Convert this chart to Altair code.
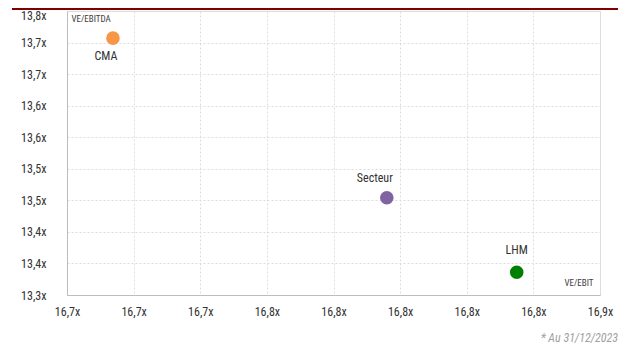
import altair as alt
import pandas as pd

names = ["CMA", "Secteur", "LHM"]
ve_ebit = [16.7138, 16.796, 16.835]
ve_ebitda = [13.727, 13.474, 13.356]
colors = ["#F79646", "#8064A2", "#008000"]

x_ticks = [16.70, 16.72, 16.74, 16.76, 16.78, 16.80, 16.82, 16.84, 16.86]
y_ticks = [13.32, 13.37, 13.42, 13.47, 13.52, 13.57, 13.62, 13.67, 13.72, 13.77]

df = pd.DataFrame({"name": names, "x": ve_ebit, "y": ve_ebitda, "color": colors})

FONT = "'Roboto Condensed', 'Liberation Sans Narrow', 'DejaVu Sans Condensed', 'Arial Narrow', sans-serif"
W, H = 533, 284

x_enc = alt.X("x:Q", scale=alt.Scale(domain=[x_ticks[0], x_ticks[-1]], nice=False, zero=False),
              axis=alt.Axis(values=x_ticks, tickCount=len(x_ticks), title="VE/EBIT", titleX=526, titleY=-13,
                            titleAlign="right",
                            titleBaseline="middle", titleFontSize=9, titleFontWeight="normal",
                            titleColor="#404040", titleFont=FONT,
                            labelExpr="replace(format(datum.value, '.1f'), '.', ',') + 'x'",
                            labelPadding=11, ticks=False, domainColor="#bdbdbd",
                            gridColor="#dcdcdc", gridDash=[2, 2], labelFont=FONT, labelFontSize=12,
                            labelColor="#333333", labelFlush=False, labelOverlap=False))
y_enc = alt.Y("y:Q", scale=alt.Scale(domain=[y_ticks[0], y_ticks[-1]], nice=False, zero=False),
              axis=alt.Axis(values=y_ticks, tickCount=len(y_ticks), title="VE/EBITDA", titleAngle=0,
                            titleX=4, titleY=7,
                            titleAlign="left", titleBaseline="middle", titleFontSize=9,
                            titleFontWeight="normal", titleColor="#404040", titleFont=FONT,
                            labelExpr="replace(format(datum.value, '.1f'), '.', ',') + 'x'",
                            labelOffset={"condition": {"test": f"datum.value > {y_ticks[-1] - 0.01}", "value": 4},
                                         "value": 0},
                            labelPadding=21, ticks=False, domainColor="#bdbdbd",
                            gridColor="#dcdcdc", gridDash=[2, 2], labelFont=FONT, labelFontSize=12,
                            labelColor="#333333", labelFlush=False, labelOverlap=False))

base = alt.Chart(df)

points = base.mark_circle(size=185, opacity=1).encode(
    x=x_enc, y=y_enc,
    color=alt.Color("color:N", scale=None),
)

label_offsets = {"CMA": (-7, 18), "Secteur": (-12, -20), "LHM": (0, -22)}
labels = []
for n, (dx, dy) in label_offsets.items():
    labels.append(
        base.transform_filter(alt.datum.name == n).mark_text(
            dx=dx, dy=dy, font=FONT, fontSize=12, color="#333333", baseline="middle"
        ).encode(x="x:Q", y="y:Q", text="name:N")
    )

bar = alt.Chart(pd.DataFrame({"a": [0]})).mark_rect(color="#800000").encode(
    x=alt.value(-55), x2=alt.value(551), y=alt.value(-3), y2=alt.value(-1)
)

foot = alt.Chart(pd.DataFrame({"t": ["* Au 31/12/2023"]})).mark_text(
    align="right", baseline="middle", font=FONT, fontSize=12, fontStyle="italic", color="#a0a0a0"
).encode(x=alt.value(551), y=alt.value(327), text="t:N")

chart = alt.layer(bar, points, *labels, foot).properties(
    width=W, height=H,
    autosize=alt.AutoSizeParams(type="none"),
    padding={"left": 59, "top": 3, "right": 18, "bottom": 53},
).configure_view(stroke=None).configure(background="white")

chart.save("out.html", embed_options={"renderer": "svg", "actions": False})
